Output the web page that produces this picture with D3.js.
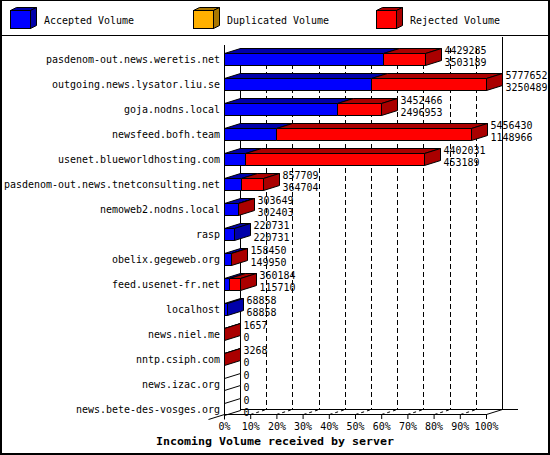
<!DOCTYPE html>
<html><head><meta charset="utf-8">
<script src="https://cdn.jsdelivr.net/npm/d3@7"></script>
<style>
body{margin:0;background:#fff}
svg{display:block}
text{font-family:"DejaVu Sans Mono",monospace;font-size:11px;fill:#000}
text.val{font-size:10.3px}
</style>
</head><body><svg id="c" width="550" height="455"></svg>
<script>
// ---------- data ----------
const categories = [
  "pasdenom-out.news.weretis.net","outgoing.news.lysator.liu.se","goja.nodns.local",
  "newsfeed.bofh.team","usenet.blueworldhosting.com","pasdenom-out.news.tnetconsulting.net",
  "nemoweb2.nodns.local","rasp","obelix.gegeweb.org","feed.usenet-fr.net","localhost",
  "news.niel.me","nntp.csiph.com","news.izac.org","news.bete-des-vosges.org"];
const totalVolume      = [4429285,5777652,3452466,5456430,4402031,857709,303649,220731,158450,360184,68858,1657,3268,0,0];
const acceptedVolume   = [3503189,3250489,2496953,1148966,453189,364704,302403,220731,149950,115710,68858,0,0,0,0];
const duplicatedVolume = [0,0,0,0,0,0,0,0,0,0,0,0,0,0,0];
const rejectedVolume   = [926096,2527163,955513,4307464,3948842,493005,1246,0,8500,244474,0,1657,3268,0,0];
const seriesNames = ["Accepted Volume","Duplicated Volume","Rejected Volume"];
const seriesKeys  = ["accepted","duplicated","rejected"];
const frontColors = ["#0000ff","#ffb000","#ff0000"];
const shadeColors = ["#0000aa","#aa7700","#aa0000"];
const tickValues  = [0,10,20,30,40,50,60,70,80,90,100];
const xTitle = "Incoming Volume received by server";

// ---------- setup ----------
const W = 550, H = 455, DX = 16, DY = 5, CW = 6;
const svg = d3.select("#c");
svg.append("rect").attr("width", W).attr("height", H).attr("fill", "#fff");

const table = categories.map((c, i) => ({
  name: c, accepted: acceptedVolume[i], duplicated: duplicatedVolume[i],
  rejected: rejectedVolume[i], total: totalVolume[i]
}));
const maxTotal = d3.max(totalVolume);
const x = d3.scaleLinear().domain([0, maxTotal]).range([224, 486]);
const xPct = d3.scaleLinear().domain([0, 100]).range([224, 486]);
const y = d3.scaleBand().domain(categories).range([46.5, 421.5]).paddingInner(0.52).paddingOuter(0.26);
const px = v => Math.round(v) + 0.5;

const floorY = 414.5, backFloorY = floorY - DY;
const line = d3.line();

// ---------- back walls / grid ----------
const grid = svg.append("g").attr("stroke", "#000").attr("stroke-width", 1).attr("fill", "none");
tickValues.forEach(t => {
  const xb = px(xPct(t)) + DX;
  const top = t === 100 ? 37 : 48;
  grid.append("path")
    .attr("d", line([[xb, top], [xb, backFloorY]]))
    .attr("stroke-dasharray", (t === 0 || t === 100) ? null : "5,3");
});
// floor
grid.append("path").attr("d", line([[px(xPct(0)) + DX, backFloorY], [518, backFloorY]]));
grid.append("path").attr("d", line([[px(xPct(0)) - DX, floorY + DY], [px(xPct(0)) + DX, backFloorY]]));
grid.append("path").attr("d", line([[px(xPct(100)), floorY], [px(xPct(100)) + DX, backFloorY]]));
tickValues.filter(t => t > 0 && t < 100).forEach(t => {
  const xf = px(xPct(t));
  grid.append("path").attr("d", line([[xf, floorY], [xf + DX, backFloorY]]))
    .attr("stroke-dasharray", "3,3");
});

// ---------- bars ----------
const stacked = d3.stack().keys(seriesKeys)(table);
const barsG = svg.append("g").attr("stroke", "#000").attr("stroke-width", 1);
table.forEach((d, i) => {
  const T = y(d.name) + 0.5, B = T + y.bandwidth();
  const g = barsG.append("g");
  let lastK = -1;
  stacked.forEach((s, k) => {
    const [v0, v1] = s[i];
    if (v1 - v0 <= 0) return;
    lastK = k;
    const X0 = px(x(v0)), X1 = px(x(v1));
    g.append("path").attr("fill", shadeColors[k])
      .attr("d", line([[X0, T], [X0 + DX, T - DY], [X1 + DX, T - DY], [X1, T]]) + "Z");
    g.append("path").attr("fill", frontColors[k])
      .attr("d", line([[X0, T], [X1, T], [X1, B], [X0, B]]) + "Z");
  });
  const Xe = px(x(d.total));
  g.append("path").attr("fill", lastK >= 0 ? shadeColors[lastK] : "#fff")
    .attr("d", line([[Xe, T], [Xe + DX, T - DY], [Xe + DX, B - DY], [Xe, B]]) + "Z");
});

// front axis line
svg.append("path").attr("stroke", "#000").attr("fill", "none")
  .attr("d", line([[px(xPct(0)), 45], [px(xPct(0)), floorY + DY]]));

// ---------- value labels ----------
const vl = svg.append("g");
table.forEach(d => {
  const T = y(d.name) + 0.5;
  const xl = px(x(d.total)) + DX + 3;
  [[String(d.total), T + 0.5], [String(d.accepted), T + 12]].forEach(([s, yy]) => {
    vl.append("text").attr("class", "val").attr("x", xl).attr("y", yy).text(s)
      .attr("textLength", s.length * CW).attr("lengthAdjust", "spacingAndGlyphs");
  });
});

// ---------- axes ----------
const yAxisG = svg.append("g").attr("transform", "translate(224,0)")
  .call(d3.axisLeft(y).tickSize(0).tickPadding(4));
yAxisG.select(".domain").remove();
yAxisG.selectAll("text").each(function () {
  const s = d3.select(this);
  s.attr("textLength", s.text().length * CW).attr("lengthAdjust", "spacingAndGlyphs");
});

const xAxisG = svg.append("g").attr("transform", "translate(0,414)")
  .call(d3.axisBottom(xPct).tickValues(tickValues).tickFormat(d => d + "%").tickSize(5).tickSizeOuter(0).tickPadding(3));
xAxisG.selectAll("text").each(function () {
  const s = d3.select(this);
  s.attr("textLength", s.text().length * CW).attr("lengthAdjust", "spacingAndGlyphs");
});

svg.append("text").attr("x", 275).attr("y", 445).attr("text-anchor", "middle")
  .style("font-weight", "bold").text(xTitle)
  .attr("textLength", xTitle.length * 7).attr("lengthAdjust", "spacingAndGlyphs");

// ---------- legend ----------
const lg = svg.append("g");
seriesNames.forEach((name, k) => {
  const x0 = 10 + 183 * k + 0.5, y0 = 10.5, w = 20, h = 18, ldx = 6, ldy = 3;
  const g = lg.append("g").attr("stroke", "#000");
  g.append("path").attr("fill", shadeColors[k])
    .attr("d", line([[x0, y0], [x0 + ldx, y0 - ldy], [x0 + w + ldx, y0 - ldy], [x0 + w, y0]]) + "Z");
  g.append("path").attr("fill", shadeColors[k])
    .attr("d", line([[x0 + w, y0], [x0 + w + ldx, y0 - ldy], [x0 + w + ldx, y0 + h - ldy], [x0 + w, y0 + h]]) + "Z");
  g.append("rect").attr("x", x0).attr("y", y0).attr("width", w).attr("height", h).attr("fill", frontColors[k]);
  lg.append("text").attr("x", x0 + 33.5).attr("y", 24).text(name)
    .attr("textLength", name.length * CW).attr("lengthAdjust", "spacingAndGlyphs");
});

// separator + frame
const fr = svg.append("g").attr("stroke", "#000").attr("fill", "none");
fr.append("path").attr("d", line([[0, 35.5], [W, 35.5]]));
fr.append("path").attr("d", line([[0, 0.5], [W, 0.5]]));
fr.append("path").attr("stroke-width", 2).attr("d", line([[1, 0], [1, H]]));
fr.append("path").attr("stroke-width", 2).attr("d", line([[W - 1, 0], [W - 1, H]]));
fr.append("path").attr("stroke-width", 2).attr("d", line([[0, H - 1], [W, H - 1]]));
</script></body></html>
